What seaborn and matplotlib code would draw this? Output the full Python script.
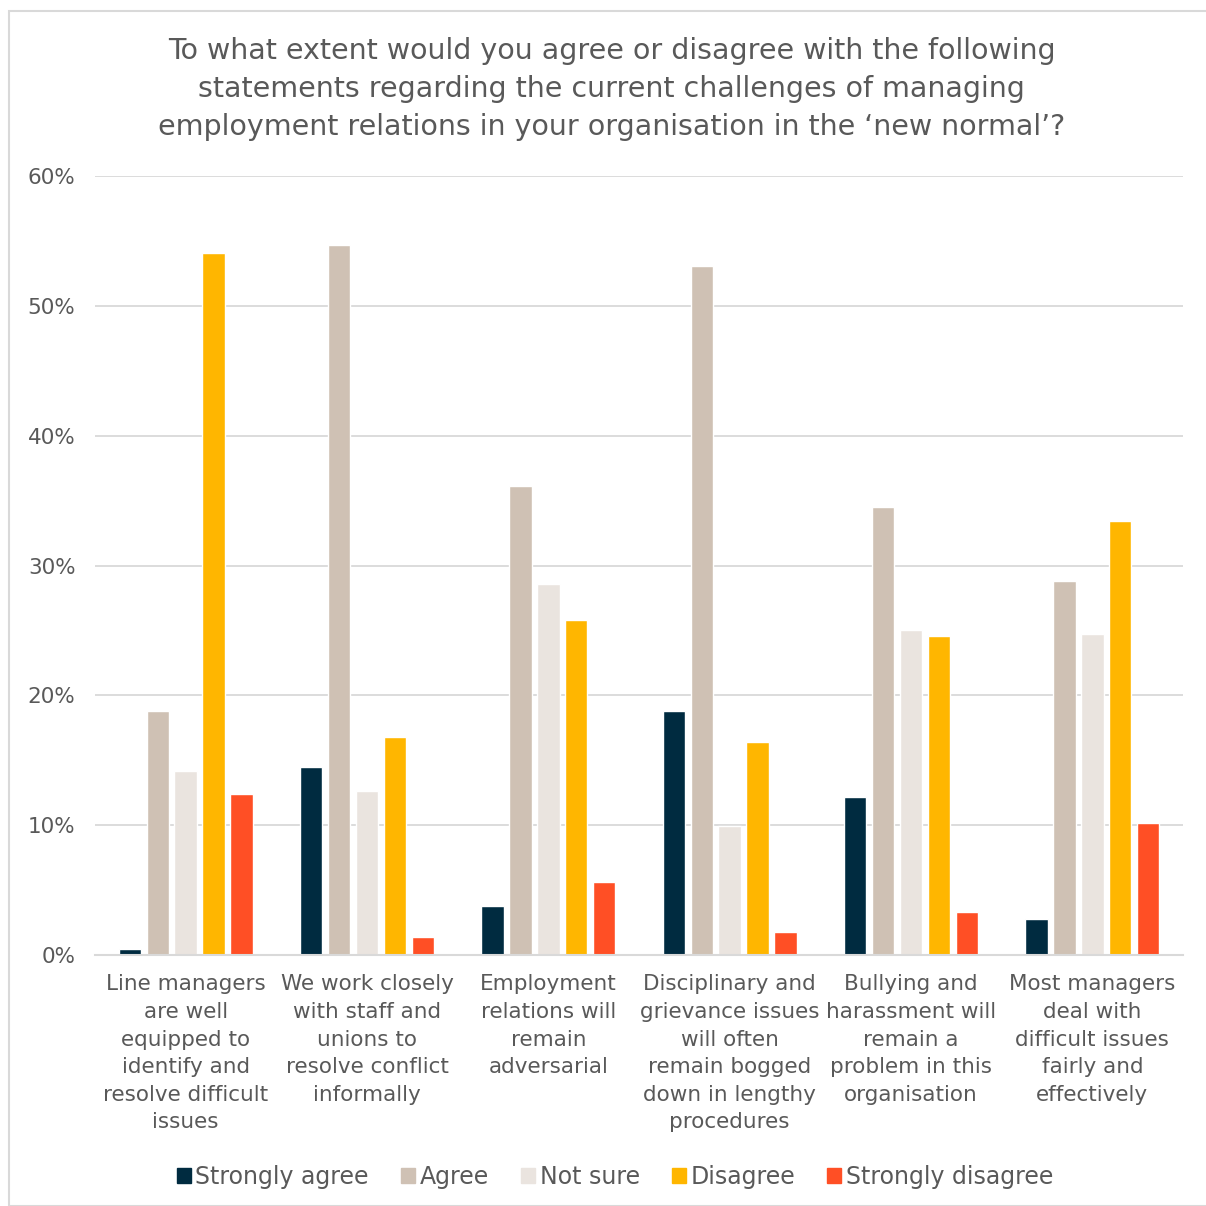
import pandas as pd
import matplotlib.pyplot as plt
import seaborn as sns
from matplotlib.patches import Rectangle
from matplotlib.ticker import PercentFormatter

statements = [
    "Line managers\nare well\nequipped to\nidentify and\nresolve difficult\nissues",
    "We work closely\nwith staff and\nunions to\nresolve conflict\ninformally",
    "Employment\nrelations will\nremain\nadversarial",
    "Disciplinary and\ngrievance issues\nwill often\nremain bogged\ndown in lengthy\nprocedures",
    "Bullying and\nharassment will\nremain a\nproblem in this\norganisation",
    "Most managers\ndeal with\ndifficult issues\nfairly and\neffectively",
]
responses = ["Strongly agree", "Agree", "Not sure", "Disagree", "Strongly disagree"]

strongly_agree = [0.5, 14.5, 3.8, 18.8, 12.2, 2.8]
agree = [18.8, 54.7, 36.1, 53.1, 34.5, 28.8]
not_sure = [14.2, 12.6, 28.6, 9.9, 25.0, 24.7]
disagree = [54.1, 16.8, 25.8, 16.4, 24.6, 33.4]
strongly_disagree = [12.4, 1.4, 5.6, 1.8, 3.3, 10.2]

colors = ["#002B40", "#CFC1B4", "#EAE4DF", "#FFB600", "#FF4F25"]
text_col = "#595959"

series = [strongly_agree, agree, not_sure, disagree, strongly_disagree]
rows = []
for resp, vals in zip(responses, series):
    for st, v in zip(statements, vals):
        rows.append({"Statement": st, "Response": resp, "Value": v})
df = pd.DataFrame(rows)

sns.set_style("white")
plt.rcParams["font.family"] = ["DejaVu Sans"]

fig = plt.figure(figsize=(12.06, 12.06), dpi=100)
ax = fig.add_axes([95 / 1206, 1 - 955 / 1206, (1183 - 95) / 1206, (955 - 176) / 1206])

sns.barplot(data=df, x="Statement", y="Value", hue="Response", hue_order=responses,
            palette=colors, width=0.77, gap=0.2, ax=ax, legend=False, saturation=1)

ax.set_ylim(0, 60)
ax.set_yticks(range(0, 61, 10))
ax.yaxis.set_major_formatter(PercentFormatter(decimals=0))
ax.grid(axis="y", color="#D9D9D9", linewidth=1.3)
ax.set_axisbelow(True)
for s in ["top", "right", "left"]:
    ax.spines[s].set_visible(False)
ax.spines["bottom"].set_color("#D9D9D9")
ax.spines["bottom"].set_linewidth(1.5)
ax.set_xlabel("")
ax.set_ylabel("")
ax.set_xticks(range(len(statements)))
ax.set_xticklabels([])
ax.tick_params(axis="x", length=0)
ax.tick_params(axis="y", length=0, labelsize=15.5, colors=text_col, pad=14)
ax.set_xlim(-0.5, 5.5)

# category labels drawn as text so the line spacing can be opened up
for i, st in enumerate(statements):
    ax.text(i, -0.025, st, transform=ax.get_xaxis_transform(), ha="center", va="top",
            fontsize=15.5, color=text_col, linespacing=1.47)

fig.text(0.507, 1 - 37 / 1206,
         "To what extent would you agree or disagree with the following\n"
         "statements regarding the current challenges of managing\n"
         "employment relations in your organisation in the \u2018new normal\u2019?",
         ha="center", va="top", fontsize=20.5, color=text_col, linespacing=1.46)

# legend
handles = [Rectangle((0, 0), 1, 1, color=c) for c in colors]
fig.legend(handles, responses, loc="center", bbox_to_anchor=(0.51, 1 - 1177 / 1206),
           ncol=5, frameon=False, fontsize=17, handlelength=0.6, handleheight=0.6,
           handletextpad=0.2, columnspacing=1.35, labelcolor=text_col)

# outer border
fig.patches.append(Rectangle((9 / 1206, 0), 1, 1 - 11 / 1206, transform=fig.transFigure,
                             fill=False, edgecolor="#D9D9D9", linewidth=1.5))

fig.savefig("out.png", dpi=100)
